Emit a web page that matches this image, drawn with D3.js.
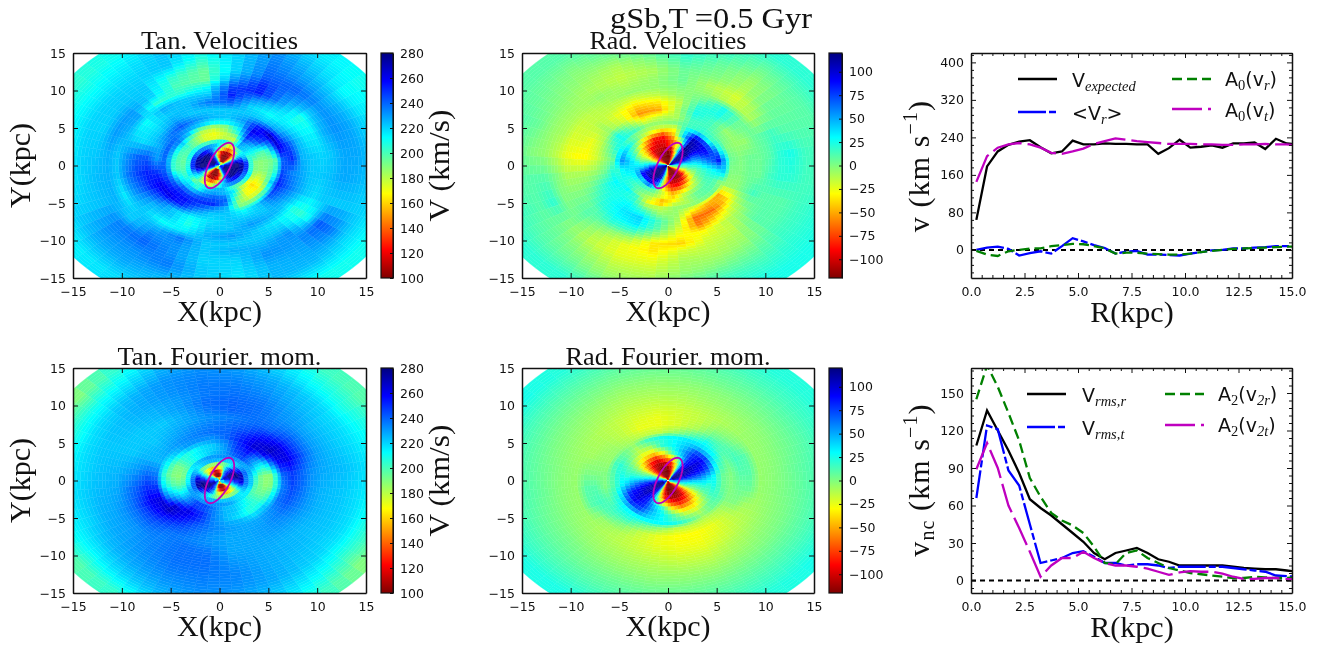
<!DOCTYPE html>
<html><head><meta charset="utf-8">
<script src="https://cdn.jsdelivr.net/npm/d3@7/dist/d3.min.js"></script>
<style>
html,body{margin:0;padding:0;background:#fff}
svg{display:block;filter:blur(0.35px)}
.tick text,.lbl{font-family:"DejaVu Sans",sans-serif;fill:#111}
.serif{font-family:"Liberation Serif",serif;fill:#111}
</style></head><body>
<svg id="c" width="1322" height="646"></svg>
<script>
// ---------- polar grid: ring edges (kpc) and sector width (deg) ----------
const ringEdges=[0.15,.5,1,1.5,2,2.5,3,3.5,4,4.5,5,5.5,6,7,8,9,10,11,12,13.5,15,17,19.3];
const sectorDeg=15;
// each row is one ring, each column one sector, from angle 0 counter-clockwise
const tanVel=[
[230,215,190,170,170,190,215,235,250,255,255,250,230,215,190,170,170,190,215,235,250,255,255,250],
[265,240,165,110,100,110,175,240,270,280,280,275,265,240,165,105,100,110,175,240,270,280,280,275],
[275,245,170,105,100,105,150,240,275,280,280,278,275,240,160,105,100,105,150,245,275,280,280,278],
[280,250,175,115,105,115,170,245,275,280,280,280,280,245,175,115,105,120,175,250,275,280,278,280],
[270,245,205,160,135,160,210,240,255,265,275,275,270,240,205,155,135,160,215,245,255,260,270,275],
[250,225,212,195,160,195,222,230,235,235,245,250,250,225,205,175,165,195,222,230,235,235,240,250],
[205,205,220,225,190,212,205,200,205,210,210,205,210,215,195,205,215,225,225,205,195,205,215,205],
[190,205,220,230,178,180,172,175,190,200,198,195,198,205,215,205,225,230,225,215,180,168,180,190],
[188,200,225,240,190,178,170,175,190,205,200,198,200,212,222,225,235,240,235,205,172,162,175,188],
[190,198,235,250,205,185,175,180,200,220,210,205,205,225,240,240,245,245,240,195,170,165,180,190],
[192,205,245,255,215,190,185,195,222,235,230,225,230,240,250,250,250,250,235,188,175,175,195,195],
[198,225,250,260,222,212,212,222,230,238,240,238,242,250,255,255,245,235,225,190,190,200,220,205],
[240,262,268,252,230,222,225,232,242,235,228,230,248,260,262,252,232,222,222,212,222,242,252,245],
[250,245,230,222,222,222,222,222,228,222,222,242,252,252,240,222,212,218,222,222,222,232,240,235],
[226,226,218,212,220,240,236,224,222,216,218,240,246,240,226,222,208,222,222,230,226,222,230,228],
[222,216,210,220,232,252,222,222,226,212,220,232,236,230,222,212,216,226,230,222,216,208,222,222],
[220,215,208,230,252,246,212,205,205,228,226,222,222,216,222,226,236,222,222,222,222,205,218,222],
[222,226,222,234,250,232,195,200,220,230,230,226,226,226,222,234,232,222,226,226,232,213,222,224],
[228,232,232,240,240,220,195,205,222,222,220,222,224,224,235,240,232,220,220,232,230,242,222,228],
[228,228,225,230,236,220,205,222,220,220,220,220,220,222,232,232,236,222,218,226,228,236,222,226],
[220,218,213,222,232,220,216,222,216,213,213,210,213,220,226,228,225,220,213,225,225,220,220,220],
[210,212,210,215,220,222,222,216,210,205,205,205,208,210,215,218,220,216,212,212,210,210,210,210]];
const radVel=[
[30,90,110,80,-50,-110,-120,-110,-100,-60,-10,40,80,110,120,110,70,-10,-100,-120,-120,-90,-30,5],
[30,90,120,100,-60,-120,-120,-120,-115,-80,-20,40,90,110,120,120,90,0,-110,-120,-120,-100,-40,5],
[35,95,120,110,-50,-120,-120,-120,-110,-70,-25,35,85,115,120,120,100,-10,-110,-120,-120,-100,-40,10],
[30,85,115,110,-30,-115,-120,-115,-105,-70,-25,30,75,110,120,120,100,-35,-110,-115,-115,-90,-40,5],
[35,75,115,115,-5,-100,-110,-105,-100,-60,-15,20,55,100,110,115,75,-40,-100,-105,-95,-60,-20,10],
[35,65,105,120,-10,-70,-100,-100,-90,-45,-15,15,45,90,90,95,60,-40,-85,-90,-70,-35,-10,10],
[40,70,100,115,-20,-70,-95,-95,-70,-35,-5,25,40,50,40,60,20,-30,-70,-65,-40,-15,5,15],
[50,80,100,110,10,-55,-90,-85,-50,-15,15,35,35,30,20,15,5,-20,-50,-35,-20,-5,10,20],
[60,85,95,105,40,-40,-70,-55,-25,5,25,45,35,25,15,5,-5,-25,-40,-15,-5,5,15,25],
[70,75,75,85,35,-30,-40,-25,-5,20,40,55,30,25,20,0,-15,-45,-30,-10,5,10,15,30],
[85,60,30,45,25,-15,-15,-10,0,15,30,35,20,25,30,15,-25,-40,-15,-10,5,10,10,35],
[55,25,15,20,15,0,-5,-5,15,25,20,5,20,30,25,20,-10,-15,-5,-5,0,5,0,40],
[5,0,5,15,15,-10,-15,-25,0,25,5,-5,5,25,25,30,15,-5,-5,-30,-45,-50,-5,0],
[0,-5,-5,15,25,-10,-50,-55,-20,-5,-15,-20,-5,15,25,35,40,15,-10,-65,-65,-40,-5,0],
[5,-5,5,25,20,-15,-35,-40,-25,-10,-25,-30,-10,5,20,30,35,10,-20,-60,-35,-15,5,5],
[5,5,5,25,5,-5,-15,-20,-15,-15,-20,-30,-10,0,10,20,15,-10,-30,-30,-15,-5,15,5],
[10,10,-10,-15,-5,0,-5,-5,-10,-15,-20,-25,-10,0,10,0,-10,-35,-40,-20,-15,5,10,15],
[20,15,-5,-20,-10,5,-5,-10,-5,-10,-10,-15,0,0,5,-10,-25,-35,-20,-15,-10,10,10,20],
[25,10,5,-10,0,5,-10,-15,-10,-5,-5,-5,10,20,0,-15,-25,-25,-10,-10,-5,10,10,20],
[15,10,5,-5,5,15,0,-10,-5,0,5,0,10,10,5,-5,-15,-15,-5,0,5,15,15,15],
[15,10,10,5,15,25,15,5,0,5,10,10,10,15,10,5,-5,-5,10,15,15,20,20,15],
[20,20,20,20,20,25,20,15,10,10,10,15,15,20,20,20,15,20,25,25,25,25,25,20]];
const tanFourier=[
[215,240,250,240,210,180,150,150,190,220,220,215,215,240,250,240,210,180,150,150,190,220,220,215],
[250,265,270,250,225,120,100,100,115,190,225,235,250,270,275,250,225,120,100,100,115,190,225,235],
[265,275,278,255,235,150,115,110,135,165,210,235,265,278,280,255,235,150,115,110,135,165,210,235],
[270,280,275,250,225,180,160,155,165,180,215,250,275,280,275,250,225,180,160,155,165,180,215,250],
[268,270,250,225,205,190,185,185,190,195,225,260,270,275,250,225,205,190,185,185,190,195,225,260],
[235,240,230,220,220,222,225,225,222,215,225,235,240,240,230,222,225,225,222,222,218,215,225,235],
[222,228,228,230,232,232,230,230,224,218,212,210,215,228,230,232,232,232,230,227,218,215,215,222],
[205,220,235,245,240,230,225,218,212,205,195,192,198,215,232,245,245,235,225,222,215,205,198,200],
[192,212,232,250,245,230,222,218,212,205,192,188,195,212,232,248,245,235,225,222,212,205,195,192],
[188,208,235,255,248,232,222,218,210,205,192,190,198,218,240,255,250,235,225,220,208,205,195,188],
[188,215,245,260,250,235,228,224,222,212,200,195,205,225,252,262,250,235,225,218,208,210,200,190],
[205,235,260,265,252,240,232,232,230,222,212,205,215,235,265,260,248,235,228,225,218,222,215,205],
[240,258,268,262,250,240,238,235,232,228,225,235,248,262,268,255,242,235,230,228,228,232,238,235],
[248,262,262,252,242,238,235,232,228,225,225,238,250,260,255,245,238,232,228,228,230,235,242,245],
[240,250,248,240,238,235,232,228,225,222,225,232,242,248,245,238,235,232,228,228,230,232,236,238],
[232,238,238,235,238,240,236,228,222,222,222,228,235,238,238,235,238,236,228,228,228,228,230,230],
[228,230,230,232,238,240,238,230,225,222,222,225,228,232,232,235,238,238,230,228,226,225,226,226],
[226,226,226,230,236,238,236,230,226,224,222,224,226,228,230,234,238,238,232,228,226,224,224,224],
[224,222,222,226,232,236,236,232,228,224,222,222,224,226,228,232,236,236,234,228,224,222,222,222],
[220,218,218,222,228,232,234,232,226,220,218,218,220,220,224,228,232,234,232,228,222,218,218,218],
[214,212,208,212,220,226,230,226,216,210,208,212,214,214,214,220,226,230,228,222,214,206,208,212],
[210,206,198,202,214,220,222,216,204,190,196,206,210,206,198,204,214,222,222,216,202,190,196,206]];
const radFourier=[
[50,75,90,60,-30,-90,-110,-110,-80,-30,5,30,50,75,90,60,-30,-90,-110,-110,-80,-30,5,30],
[80,115,120,95,-40,-115,-120,-120,-110,-70,0,40,85,115,120,95,-40,-115,-120,-120,-110,-70,0,40],
[80,110,118,95,-40,-110,-120,-120,-110,-70,0,40,85,112,118,95,-40,-110,-120,-120,-110,-70,0,40],
[75,105,112,90,-30,-100,-120,-118,-105,-70,0,35,80,108,112,90,-30,-100,-120,-118,-105,-70,0,35],
[70,100,108,85,-15,-85,-105,-110,-100,-60,-5,30,75,102,108,85,-15,-85,-108,-110,-100,-60,-5,30],
[65,95,105,80,5,-55,-80,-100,-85,-50,-5,25,70,98,105,82,5,-55,-90,-100,-85,-50,-5,25],
[60,90,100,80,30,-20,-55,-78,-65,-35,0,25,62,92,100,82,30,-20,-65,-82,-70,-40,0,25],
[50,85,98,80,45,15,-25,-48,-40,-20,5,25,52,88,98,82,45,15,-35,-60,-50,-25,5,25],
[40,75,90,78,50,25,0,-25,-25,-10,10,20,42,78,92,80,50,25,-10,-35,-35,-15,10,20],
[30,55,75,70,45,30,20,-10,-15,0,15,25,32,58,78,72,45,30,10,-15,-22,-5,15,25],
[15,30,45,50,40,30,20,5,-10,5,20,20,20,35,50,55,40,30,15,0,-10,5,15,15],
[5,15,30,35,35,30,25,15,-5,5,15,10,10,20,30,30,30,30,25,10,-5,5,10,5],
[0,5,15,25,10,-5,-15,-15,-10,-5,-5,0,0,10,20,20,5,-5,-15,-15,-15,-10,0,0],
[10,15,10,5,-10,-20,-25,-25,-15,-8,-5,0,10,15,10,0,-15,-25,-30,-30,-25,-15,0,5],
[10,10,0,-5,-15,-20,-25,-22,-15,-10,-8,0,10,10,-5,-10,-18,-25,-28,-28,-22,-15,-8,5],
[-5,-5,-6,-10,-14,-18,-20,-18,-14,-10,-7,-5,-5,-5,-8,-12,-16,-20,-24,-24,-18,-12,-8,-5],
[-3,-4,-5,-8,-10,-13,-15,-14,-10,-7,-5,-3,-3,-4,-6,-9,-12,-15,-18,-18,-12,-8,-5,-3],
[0,-1,-3,-4,-6,-9,-10,-10,-7,-4,-2,0,0,-1,-3,-6,-8,-10,-12,-12,-8,-4,-2,0],
[5,3,2,0,-2,-4,-5,-5,-2,0,2,4,5,3,2,-1,-3,-5,-5,-5,-2,0,2,4],
[10,8,8,6,5,3,2,2,4,6,8,9,10,8,7,5,4,2,2,3,5,7,8,9],
[15,15,15,14,12,10,10,10,12,14,15,15,15,15,14,13,11,10,10,11,13,15,15,15],
[22,22,22,22,22,20,20,20,22,25,25,22,22,22,24,24,22,20,20,20,22,25,25,22]];
// ---------- radial profiles ----------
const radiusBins=[.25,.75,1.25,1.75,2.25,2.75,3.25,3.75,4.25,4.75,5.25,5.75,6.25,6.75,7.25,7.75,8.25,8.75,9.25,9.75,10.25,10.75,11.25,11.75,12.25,12.75,13.25,13.75,14.25,14.75,15.25];
const vExpected=[64,178,210,224,231,234,219,206,210,233,225,225,227,226,226,225,225,205,217,235,218,220,223,218,227,227,229,215,237,227,225];
const vrMean=[0,5,7,2,-12,-7,-3,-8,8,25,18,10,4,-8,-4,-2,-10,-10,-11,-12,-8,-5,-1,0,3,3,5,6,8,8,9];
const a0vr=[-2,-10,-13,-3,0,3,3,8,10,13,12,8,3,-8,-6,-6,-8,-9,-10,-10,-8,-5,-2,0,2,3,4,5,6,7,7];
const a0vt=[145,200,218,225,228,225,218,207,205,210,216,226,232,238,235,232,230,228,226,226,226,225,225,224,224,225,225,226,225,225,223];
const vRmsR=[108,136,120,104,86,65,58,52,45,38,31,22,17,22,24,26,22,17,15,12,12,12,12,12,11,10,9.5,9,9,8,7];
const vRmsT=[66,124,121,88,76,45,14,16,18,22,23.5,19,14,14,12,13,13,12,10,11,11,11,11,11,10,9,8,7,4,3.5,3];
const a2v2r=[145,172,155,134,112,82,67,54,48,44,38,27,14,13,22,24,18,14,10,8,6,5,4,3,2,2,3,2.5,2,2,2.5];
const a2v2t=[89,110,90,60,42,23,3,12,18,18,23,18,14,12,12,11,9.5,7,4.5,6.5,7.5,7,7,5.5,3,1.3,1.3,2,2,1.3,1];
// ---------- axes, ticks, labels ----------
const mapDomain=[-15,15];
const mapTicks=[-15,-10,-5,0,5,10,15];
const tanRange=[100,280], radRange=[-120,120];
const tanBarTicks=[100,120,140,160,180,200,220,240,260,280];
const radBarTicks=[-100,-75,-50,-25,0,25,50,75,100];
const profileRTicks=[0,2.5,5,7.5,10,12.5,15];
const profileRMinor=[.5,1,1.5,2,3,3.5,4,4.5,5.5,6,6.5,7,8,8.5,9,9.5,10.5,11,11.5,12,13,13.5,14,14.5];
const velTicks=[0,80,160,240,320,400];
const velMinor=[-48,-32,-16,16,32,48,64,96,112,128,144,176,192,208,224,256,272,288,304,336,352,368,384,416];
const ncTicks=[0,30,60,90,120,150];
const ncMinor=[-6,6,12,18,24,36,42,48,54,66,72,78,84,96,102,108,114,126,132,138,144,156,162,168];
const jetStops=["#800000","#ff0000","#ffff00","#00ffff","#0000ff","#000080"];
const jetPos=[0,.125,.375,.625,.875,1];
const barEllipse={a:3.2,b:1.1,tiltDeg:20};
const COL={black:"#000",blue:"#0000ff",green:"#008000",magenta:"#bf00bf"};
const ringCentres=ringEdges.slice(1).map((e,i)=>(e+ringEdges[i])/2);

const svg=d3.select("#c");
const defs=svg.append("defs");
const grad=defs.append("linearGradient").attr("id","jet").attr("x1",0).attr("x2",0).attr("y1",1).attr("y2",0);
jetPos.forEach((p,i)=>grad.append("stop").attr("offset",p).attr("stop-color",jetStops[i]));
defs.append("filter").attr("id","soft").attr("x","-2%").attr("y","-2%").attr("width","104%").attr("height","104%")
 .append("feGaussianBlur").attr("stdDeviation",0.45);

function styleAxis(g,w){g.selectAll(".domain").attr("stroke","#111").attr("stroke-width",w||1.5);
 g.selectAll(".tick line").attr("stroke","#111").attr("stroke-width",1);
 g.selectAll("text").attr("font-size",12.5);}
function frameAxes(x,y,box,xt,yt,fmtX,fmtY,minX,minY){
 const g=svg.append("g");
 const mk=(axis,tx,ty,lab)=>{const a=g.append("g").attr("transform",`translate(${tx},${ty})`).call(axis);styleAxis(a);
   a.selectAll("text").attr("fill","#111");if(!lab)a.selectAll("text").remove();return a;};
 mk(d3.axisBottom(x).tickValues(xt).tickSizeOuter(0).tickSizeInner(-5).tickPadding(9).tickFormat(fmtX),0,box.y+box.h,true);
 mk(d3.axisTop(x).tickValues(xt).tickSizeOuter(0).tickSizeInner(-5),0,box.y,false);
 mk(d3.axisLeft(y).tickValues(yt).tickSizeOuter(0).tickSizeInner(-5).tickPadding(7).tickFormat(fmtY),box.x,0,true);
 mk(d3.axisRight(y).tickValues(yt).tickSizeOuter(0).tickSizeInner(-5),box.x+box.w,0,false);
 if(minX){[[d3.axisBottom,box.y+box.h],[d3.axisTop,box.y]].forEach(([ax,t])=>{
   const a=g.append("g").attr("transform",`translate(0,${t})`).call(ax(x).tickValues(minX).tickSizeOuter(0).tickSizeInner(-3).tickFormat(""));
   a.select(".domain").remove();a.selectAll("line").attr("stroke","#111");});}
 if(minY){[[d3.axisLeft,box.x],[d3.axisRight,box.x+box.w]].forEach(([ax,t])=>{
   const a=g.append("g").attr("transform",`translate(${t},0)`).call(ax(y).tickValues(minY).tickSizeOuter(0).tickSizeInner(-3).tickFormat(""));
   a.select(".domain").remove();a.selectAll("line").attr("stroke","#111");});}
}
function serifText(txt,x,y,size,rot,len){
 const t=svg.append("text").attr("class","serif").attr("text-anchor","middle").attr("font-size",size).text(txt);
 if(rot)t.attr("transform",`translate(${x},${y}) rotate(-90)`);else t.attr("x",x).attr("y",y);
 if(len)t.attr("textLength",len).attr("lengthAdjust","spacingAndGlyphs");
 return t;
}
let clipId=0;
function mapPanel(o){
 const box={x:o.x,y:o.y,w:o.w,h:225};
 const X=d3.scaleLinear().domain(mapDomain).range([box.x,box.x+box.w]);
 const Y=d3.scaleLinear().domain(mapDomain).range([box.y+box.h,box.y]);
 const color=d3.scaleLinear().domain(jetPos.map(p=>o.range[0]+p*(o.range[1]-o.range[0]))).range(jetStops).clamp(true);
 const id="clip"+(clipId++);
 defs.append("clipPath").attr("id",id).append("rect").attr("x",box.x).attr("y",box.y).attr("width",box.w).attr("height",box.h);
 const outer=svg.append("g").attr("clip-path",`url(#${id})`);
 const cells=outer.append("g").attr("filter","url(#soft)");
 const line=d3.line();
 const rad=d=>d*Math.PI/180;
 const nS=o.data[0].length;
 // the mesh is shaded between neighbouring cells (radially and across sectors), as a gouraud-shaded mesh does
 const shades=o.data[0].map((_,si)=>d3.scaleLinear().domain(ringCentres).range(o.data.map(row=>row[si])).clamp(true));
 const subs=[[-1,-1/3],[-1/3,1/3],[1/3,1]];
 o.data[0].forEach((_,si)=>{
  const centre=(si+.5)*sectorDeg;
  subs.forEach(([u0,u1])=>{
   const um=(u0+u1)/2, nb=um<0?(si-1+nS)%nS:(si+1)%nS, w=Math.abs(um)/2;
   const aStart=centre+u0*sectorDeg/2, aEnd=centre+u1*sectorDeg/2;
   const steps=d3.range(0,3).map(k=>aStart+(aEnd-aStart)*k/2);
   ringEdges.slice(1).forEach((rEnd,ri)=>{
    const rStart=ringEdges[ri];
    const n=Math.max(1,Math.round((rEnd-rStart)/0.34));
    d3.range(n).forEach(k=>{
     const r0=rStart+(rEnd-rStart)*k/n,r1=rStart+(rEnd-rStart)*(k+1)/n,rm=(r0+r1)/2;
     const c=color(shades[si](rm)*(1-w)+shades[nb](rm)*w);
     const pts=steps.map(a=>[X(r1*Math.cos(rad(a))),Y(r1*Math.sin(rad(a)))])
       .concat(steps.slice().reverse().map(a=>[X(r0*Math.cos(rad(a))),Y(r0*Math.sin(rad(a)))]));
     cells.append("path").attr("d",line(pts)+"Z").attr("fill",c).attr("stroke",c).attr("stroke-width",.35);
    });
   });
  });
 });
 const e=barEllipse,t=rad(e.tiltDeg);
 const ell=d3.range(0,361,4).map(d=>{const c=e.a*Math.cos(rad(d)),s=e.b*Math.sin(rad(d));
   return [X(c*Math.sin(t)+s*Math.cos(t)),Y(c*Math.cos(t)-s*Math.sin(t))];});
 outer.append("path").attr("d",line(ell)).attr("fill","none").attr("stroke",COL.magenta).attr("stroke-width",1.8);
 frameAxes(X,Y,box,mapTicks,mapTicks,d3.format("d"),d3.format("d"));
 const C=d3.scaleLinear().domain(o.range).range([box.y+box.h,box.y]);
 svg.append("rect").attr("x",o.bx).attr("y",box.y).attr("width",o.bw).attr("height",box.h).attr("fill","url(#jet)");
 const a=svg.append("g").attr("transform",`translate(${o.bx+o.bw},0)`).call(d3.axisRight(C).tickValues(o.barTicks).tickSizeOuter(0).tickSizeInner(-3).tickPadding(7).tickFormat(d3.format("d")));
 styleAxis(a,1);a.selectAll("text").attr("fill","#111");
 svg.append("rect").attr("x",o.bx).attr("y",box.y).attr("width",o.bw).attr("height",box.h).attr("fill","none").attr("stroke","#111").attr("stroke-width",1.2);
 serifText(o.title,o.x+o.w/2,box.y+o.titleDy,24.5,false,o.titleLen);
 serifText("X(kpc)",o.x+o.w/2,box.y+268,30);
 if(o.ylab){serifText("Y(kpc)",30,box.y+box.h/2,30,true);
   serifText("V (km/s)",449,box.y+box.h/2,30,true,112);}
}
const W1=293,W2=292;
mapPanel({x:73,y:53,w:W1,bx:381,bw:12,data:tanVel,range:tanRange,barTicks:tanBarTicks,title:"Tan. Velocities",titleDy:-4,titleLen:157,ylab:true});
mapPanel({x:522,y:53,w:W2,bx:829,bw:13,data:radVel,range:radRange,barTicks:radBarTicks,title:"Rad. Velocities",titleDy:-4,titleLen:157});
mapPanel({x:73,y:368,w:W1,bx:381,bw:12,data:tanFourier,range:tanRange,barTicks:tanBarTicks,title:"Tan. Fourier. mom.",titleDy:-3,titleLen:204,ylab:true});
mapPanel({x:522,y:368,w:W2,bx:829,bw:13,data:radFourier,range:radRange,barTicks:radBarTicks,title:"Rad. Fourier. mom.",titleDy:-3,titleLen:205});
serifText("gSb,T\u2009=0.5 Gyr",711,28,29,false,202);

function seriesPanel(o){
 const box={x:971,y:o.y,w:321,h:225};
 const X=d3.scaleLinear().domain([0,15]).range([box.x,box.x+box.w]);
 const Y=d3.scaleLinear().domain(o.domain).range([box.y+box.h,box.y]);
 const id="clip"+(clipId++);
 defs.append("clipPath").attr("id",id).append("rect").attr("x",box.x).attr("y",box.y).attr("width",box.w).attr("height",box.h);
 const g=svg.append("g").attr("clip-path",`url(#${id})`);
 const line=d3.line().x((d,i)=>X(radiusBins[i])).y(d=>Y(d));
 g.append("line").attr("x1",box.x).attr("x2",box.x+box.w).attr("y1",Y(0)).attr("y2",Y(0)).attr("stroke","#000").attr("stroke-width",2).attr("stroke-dasharray","5,4");
 o.series.forEach(s=>g.append("path").attr("d",line(s.v)).attr("fill","none").attr("stroke",s.c).attr("stroke-width",2.3).attr("stroke-dasharray",s.dash||null));
 frameAxes(X,Y,box,profileRTicks,o.ticks,d3.format(".1f"),d3.format("d"),profileRMinor,o.minor);
 serifText("R(kpc)",1132,box.y+269,30);
 o.series.forEach(s=>{
  svg.append("line").attr("x1",s.lx).attr("x2",s.lx+39).attr("y1",s.ly).attr("y2",s.ly).attr("stroke",s.c).attr("stroke-width",2.3).attr("stroke-dasharray",s.dash||null);
  const t=svg.append("text").attr("class","lbl").attr("x",s.tx).attr("y",s.ty).attr("font-size",19);
  s.parts.forEach(p=>{const sp=t.append("tspan").text(p[0]);
   if(p[1]==="s"){sp.attr("class","serif").attr("font-size",14.5).attr("font-style",p[2]||"italic").attr("dy",4);}
   if(p[1]==="u"){sp.attr("dy",-4);}});
 });
 return box;
}
seriesPanel({y:53,domain:[-60,420],ticks:velTicks,minor:velMinor,series:[
 {v:vExpected,c:COL.black,lx:1018,ly:79,tx:1072,ty:87,parts:[["V"],["expected","s"]]},
 {v:vrMean,c:COL.blue,dash:"28,3,7,3",lx:1018,ly:112,tx:1072,ty:120,parts:[["<V"],["r","s"],[">","u"]]},
 {v:a0vr,c:COL.green,dash:"10,5",lx:1172,ly:79,tx:1225,ty:86,parts:[["A"],["0","s","normal"],["(v","u"],["r","s"],[")","u"]]},
 {v:a0vt,c:COL.magenta,dash:"30,6",lx:1172,ly:109,tx:1225,ty:117,parts:[["A"],["0","s","normal"],["(v","u"],["t","s"],[")","u"]]}]});
seriesPanel({y:368,domain:[-10,170],ticks:ncTicks,minor:ncMinor,series:[
 {v:vRmsR,c:COL.black,lx:1027,ly:394,tx:1082,ty:402,parts:[["V"],["rms,r","s"]]},
 {v:vRmsT,c:COL.blue,dash:"28,3,7,3",lx:1027,ly:427,tx:1082,ty:435,parts:[["V"],["rms,t","s"]]},
 {v:a2v2r,c:COL.green,dash:"10,5",lx:1165,ly:394,tx:1218,ty:401,parts:[["A"],["2","s","normal"],["(v","u"],["2r","s"],[")","u"]]},
 {v:a2v2t,c:COL.magenta,dash:"30,6",lx:1165,ly:425,tx:1218,ty:432,parts:[["A"],["2","s","normal"],["(v","u"],["2t","s"],[")","u"]]}]});
function ylabelKm(prefix,sub,cy){
 const t=svg.append("text").attr("class","serif").attr("text-anchor","middle").attr("font-size",30).attr("letter-spacing",1.1)
  .attr("transform",`translate(929,${cy}) rotate(-90)`);
 t.append("tspan").text(prefix);
 if(sub)t.append("tspan").attr("font-size",20).attr("dy",5).text(sub);
 t.append("tspan").attr("dy",sub?-5:0).text(" (km s");
 t.append("tspan").attr("font-size",20).attr("dy",-12).text("\u22121");
 t.append("tspan").attr("dy",12).text(")");
}
ylabelKm("v",null,166);
ylabelKm("v","nc",480);
</script></body></html>
